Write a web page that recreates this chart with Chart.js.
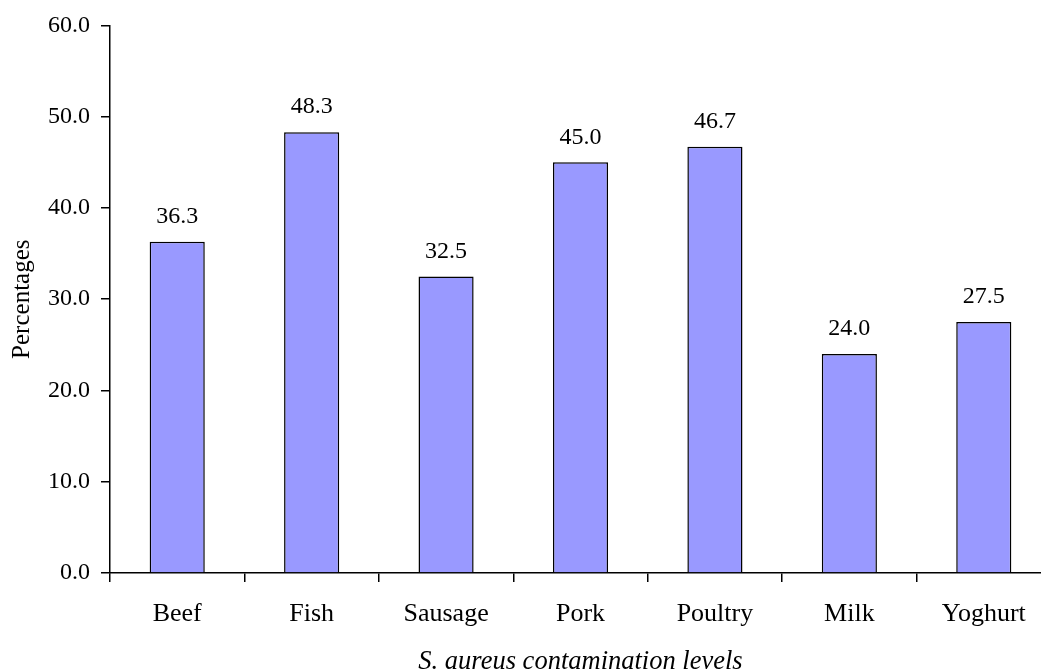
<!DOCTYPE html>
<html>
<head>
<meta charset="utf-8">
<script src="https://cdn.jsdelivr.net/npm/chart.js@4"></script>
<style>
  html, body { margin: 0; padding: 0; background: #fff; overflow: hidden; }
  #wrap { width: 1060px; height: 680px; }
</style>
</head>
<body>
<div id="wrap"><canvas id="contaminationChart" width="1060" height="680"></canvas></div>
<script>
// S. aureus contamination by food type
const categories = ['Beef', 'Fish', 'Sausage', 'Pork', 'Poultry', 'Milk', 'Yoghurt'];
const percentages = [36.3, 48.3, 32.5, 45.0, 46.7, 24.0, 27.5];
const yMin = 0;
const yMax = 60;
const yStep = 10;

const serif = '"Liberation Serif", "Times New Roman", serif';
const tickLen = 9;

// Value labels written above each bar
const barValueLabels = {
    id: 'barValueLabels',
    afterDatasetsDraw(chart) {
        const ctx = chart.ctx;
        const meta = chart.getDatasetMeta(0);
        ctx.save();
        ctx.font = '24px ' + serif;
        ctx.fillStyle = '#000';
        ctx.textAlign = 'center';
        ctx.textBaseline = 'middle';
        meta.data.forEach((bar, i) => {
            ctx.fillText(percentages[i].toFixed(1), bar.x, bar.y - 25);
        });
        ctx.restore();
    }
};

const ctx = document.getElementById('contaminationChart').getContext('2d');
new Chart(ctx, {
    type: 'bar',
    data: {
        labels: categories,
        datasets: [{
            data: percentages,
            backgroundColor: '#9999ff',
            borderColor: '#000',
            borderWidth: 1.5,
            barPercentage: 0.41,
            categoryPercentage: 1
        }]
    },
    options: {
        responsive: false,
        animation: false,
        layout: { padding: { top: 23, right: 9, left: 0, bottom: 0 } },
        plugins: {
            legend: { display: false },
            tooltip: { enabled: false }
        },
        scales: {
            x: {
                afterFit(scale) { scale.height = 107; },
                grid: { display: true, drawOnChartArea: false, drawTicks: true, tickLength: tickLen, color: '#000', lineWidth: 1.5 },
                border: { display: true, color: '#000', width: 1.5 },
                ticks: { color: '#000', padding: 17, font: { family: serif, size: 26 }, maxRotation: 0 },
                title: {
                    display: true,
                    text: 'S. aureus contamination levels',
                    color: '#000',
                    font: { family: serif, size: 26.5, style: 'italic' },
                    padding: { top: 0, bottom: 2 }
                }
            },
            y: {
                min: yMin,
                max: yMax,
                afterFit(scale) { scale.width = 110; },
                grid: { display: true, drawOnChartArea: false, drawTicks: true, tickLength: tickLen, color: '#000', lineWidth: 1.5 },
                border: { display: true, color: '#000', width: 1.5 },
                ticks: {
                    stepSize: yStep,
                    color: '#000',
                    padding: 11,
                    font: { family: serif, size: 24 },
                    callback: v => Number(v).toFixed(1)
                },
                title: {
                    display: true,
                    text: 'Percentages',
                    color: '#000',
                    font: { family: serif, size: 25 },
                    padding: { top: 7, bottom: 0 }
                }
            }
        }
    },
    plugins: [barValueLabels]
});
</script>
</body>
</html>
